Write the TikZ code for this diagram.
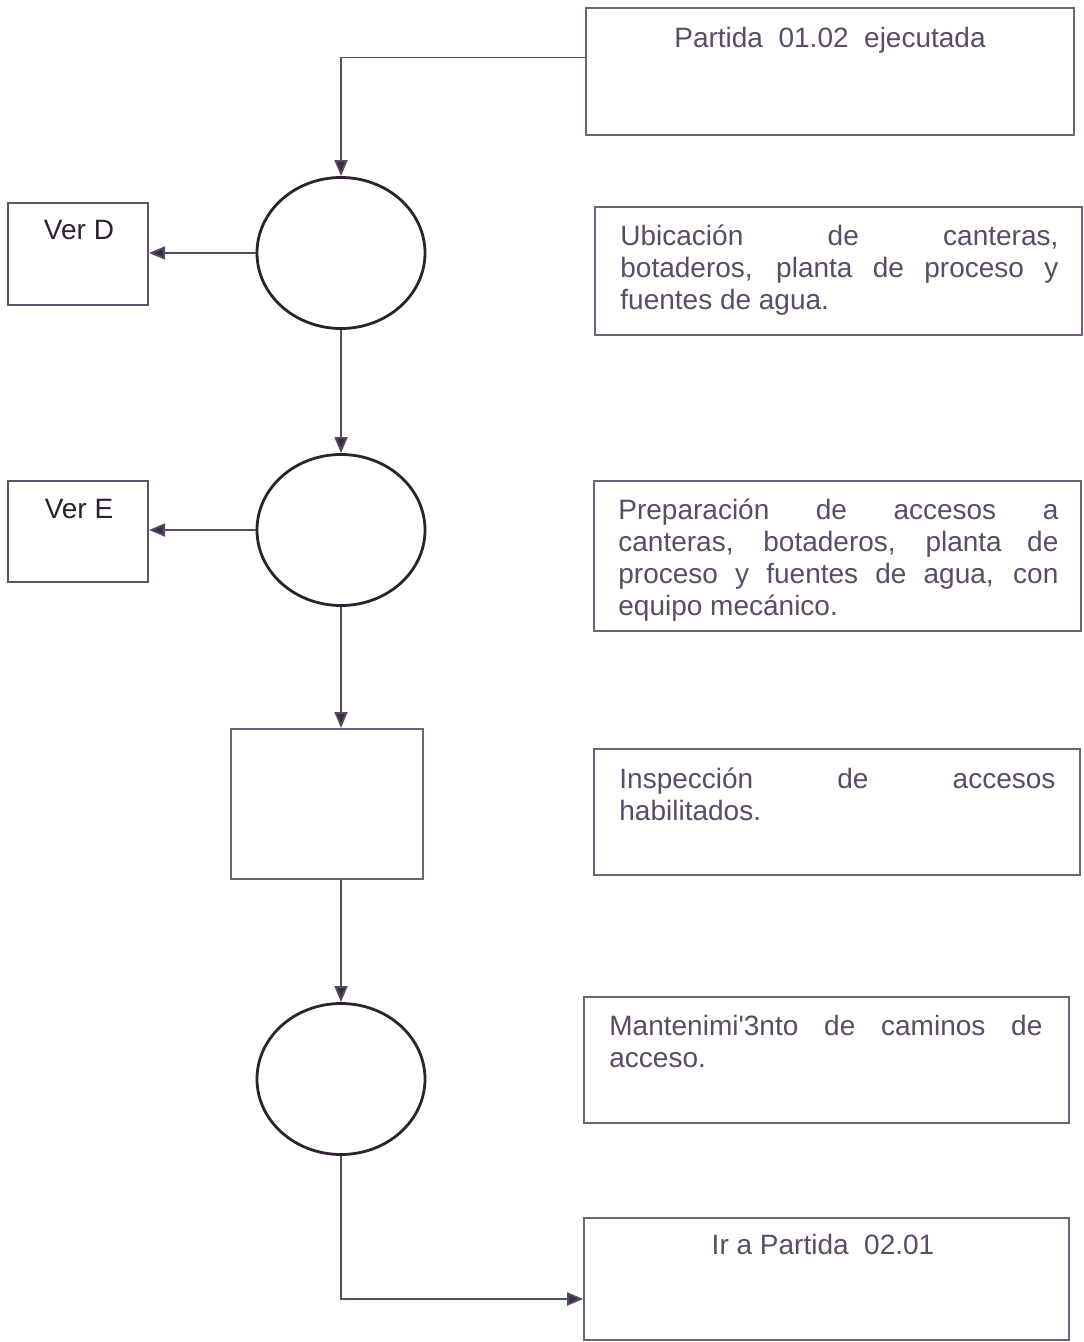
\documentclass[tikz,border=0pt]{standalone}
\usepackage{fontspec}
\setmainfont{Liberation Sans}
\usetikzlibrary{arrows.meta,shapes.geometric}
\definecolor{txt}{HTML}{5A4C66}
\definecolor{txtdark}{HTML}{2E2034}
\definecolor{edge}{HTML}{6E6078}
\definecolor{ring}{HTML}{2C2230}
\definecolor{tip}{HTML}{3A2C42}
\tikzset{
  rbox/.style={draw=edge, line width=0.8pt, rectangle, inner sep=0pt},
  sidebox/.style={draw=edge!85!black, line width=1pt, rectangle, inner sep=0pt,
    minimum width=70pt},
  ring/.style={draw=ring, line width=1.4pt, ellipse, inner sep=0pt,
    minimum width=84pt, minimum height=75.5pt},
  flow/.style={draw=edge!80!black, line width=0.9pt,
    -{Triangle[length=8pt,width=6.5pt,fill=tip]}},
  label/.style={text=txt, inner sep=0pt, font=\fontsize{14}{16}\selectfont},
  darklabel/.style={text=txtdark, inner sep=0pt, font=\fontsize{14}{16}\selectfont},
}
% justified body text: spread lines, last line ragged
\newcommand{\spread}[1]{\makebox[\linewidth][s]{#1}}
\newcommand{\bodytext}[2]{\parbox[t]{#1}{\fontsize{14}{16}\selectfont\setlength{\baselineskip}{16pt}#2}}
\begin{document}
\begin{tikzpicture}[x=0.5pt,y=-0.5pt]
\useasboundingbox[fill=white] (0,0) rectangle (1083,1342);

% right-hand description boxes
\node[rbox, minimum width=244pt, minimum height=63.5pt] (start) at (830,71.5) {};
\node[label, anchor=base] (starttxt) at (830,48) {Partida\ \ 01.02\ \ ejecutada};

\node[rbox, minimum width=243.5pt, minimum height=64pt] (ubic) at (838.5,271) {};
\node[label, anchor=base west] (ubictxt) at (620,246) {\bodytext{219pt}{%
  \spread{Ubicación de canteras,}\\
  \spread{botaderos, planta de proceso y}\\
  fuentes de agua.}};

\node[rbox, minimum width=243.5pt, minimum height=75pt] (prep) at (837.5,556) {};
\node[label, anchor=base west] (preptxt) at (618,519) {\bodytext{220pt}{%
  \spread{Preparación de accesos a}\\
  \spread{canteras, botaderos, planta de}\\
  \spread{proceso y fuentes de agua, con}\\
  equipo mecánico.}};

\node[rbox, minimum width=243pt, minimum height=63pt] (insp) at (837,812) {};
\node[label, anchor=base west] (insptxt) at (619,788) {\bodytext{218pt}{%
  \spread{Inspección de accesos}\\
  habilitados.}};

\node[rbox, minimum width=242.5pt, minimum height=63pt] (mant) at (826.5,1060) {};
\node[label, anchor=base west] (manttxt) at (609,1035) {\bodytext{216.5pt}{%
  \spread{Mantenimi\textquotesingle3nto de caminos de}\\
  acceso.}};

\node[rbox, minimum width=242.5pt, minimum height=61pt] (next) at (826.5,1279) {};
\node[label, anchor=base] (nexttxt) at (823,1254) {Ir\ a Partida\ \ 02.01};

% main flow column
\node[ring] (op1) at (341,253) {};
\node[ring] (op2) at (341,530) {};
\node[rbox, draw=edge, line width=1pt, minimum width=96pt, minimum height=75pt] (insprect) at (327,804) {};
\node[ring] (op3) at (341,1079) {};

% references to other charts
\node[sidebox, minimum height=51pt] (verd) at (78,254) {};
\node[darklabel, anchor=base] (verdtxt) at (79,240) {Ver\ D};
\node[sidebox, minimum height=50.5pt] (vere) at (78,531.5) {};
\node[darklabel, anchor=base] (veretxt) at (79,518) {Ver\ E};

% connectors
\draw[flow] ([yshift=7pt]start.west) -| (op1.north);
\draw[flow] (op1.west) -- (op1.west -| verd.east);
\draw[flow] (op1.south) -- (op2.north);
\draw[flow] (op2.west) -- (op2.west -| vere.east);
\draw[flow] (op2.south) -- (op2.south |- insprect.north);
\draw[flow] (op2.south |- insprect.south) -- (op3.north);
\draw[flow] (op3.south) |- ([yshift=-10pt]next.west);
\end{tikzpicture}
\end{document}
